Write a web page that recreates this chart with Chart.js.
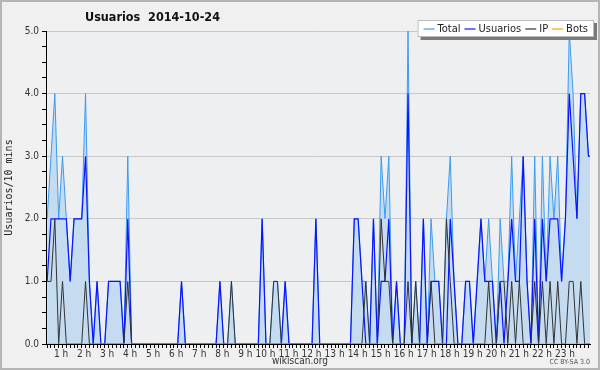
<!DOCTYPE html>
<html>
<head>
<meta charset="utf-8">
<title>Usuarios 2014-10-24</title>
<script src="https://cdn.jsdelivr.net/npm/chart.js@4.4.1/dist/chart.umd.min.js"></script>
<style>
    html, body { margin: 0; padding: 0; background: #f0f0f0; }
    #wrap { width: 600px; height: 370px; }
</style>
</head>
<body>
<div id="wrap"><canvas id="usuariosChart" width="600" height="370"></canvas></div>
<script>
// Usuarios por 10 minutos, 2014-10-24 (una fila = una hora)
const usuarios = [
    1, 2, 2, 2, 2, 2,   1, 2, 2, 2, 3, 1,   0, 1, 0, 0, 1, 1,   1, 1, 0, 2, 0, 0,
    0, 0, 0, 0, 0, 0,   0, 0, 0, 0, 0, 1,   0, 0, 0, 0, 0, 0,   0, 0, 0, 1, 0, 0,
    0, 0, 0, 0, 0, 0,   0, 0, 2, 0, 0, 0,   0, 0, 1, 0, 0, 0,   0, 0, 0, 0, 2, 0,
    0, 0, 0, 0, 0, 0,   0, 0, 2, 2, 1, 0,   0, 2, 0, 1, 1, 2,   0, 1, 0, 0, 4, 0,
    0, 0, 2, 0, 1, 1,   1, 0, 0, 2, 1, 0,   0, 1, 1, 0, 1, 2,   1, 1, 1, 0, 1, 0,
    1, 2, 1, 1, 3, 1,   0, 2, 0, 2, 1, 2,   2, 2, 1, 2, 4, 3,   2, 4, 4, 3, 3, 3
];

const ip = [
    1, 1, 2, 0, 1, 0,   0, 0, 0, 0, 1, 0,   0, 0, 0, 0, 0, 0,   0, 0, 0, 1, 0, 0,
    0, 0, 0, 0, 0, 0,   0, 0, 0, 0, 0, 0,   0, 0, 0, 0, 0, 0,   0, 0, 0, 0, 0, 0,
    1, 0, 0, 0, 0, 0,   0, 0, 0, 0, 0, 1,   1, 0, 0, 0, 0, 0,   0, 0, 0, 0, 0, 0,
    0, 0, 0, 0, 0, 0,   0, 0, 0, 0, 0, 1,   0, 0, 0, 2, 1, 1,   0, 0, 0, 0, 1, 0,
    1, 0, 0, 0, 1, 0,   0, 0, 2, 1, 0, 0,   0, 0, 0, 0, 0, 0,   0, 1, 0, 0, 1, 1,
    0, 1, 0, 1, 0, 0,   0, 1, 0, 1, 0, 1,   0, 1, 0, 0, 1, 1,   0, 1, 0, 0, 0, 0
];

const total = [
    2, 3, 4, 2, 3, 2,   1, 2, 2, 2, 4, 1,   0, 1, 0, 0, 1, 1,   1, 1, 0, 3, 0, 0,
    0, 0, 0, 0, 0, 0,   0, 0, 0, 0, 0, 1,   0, 0, 0, 0, 0, 0,   0, 0, 0, 1, 0, 0,
    1, 0, 0, 0, 0, 0,   0, 0, 2, 0, 0, 1,   1, 0, 1, 0, 0, 0,   0, 0, 0, 0, 2, 0,
    0, 0, 0, 0, 0, 0,   0, 0, 2, 2, 1, 1,   0, 2, 0, 3, 2, 3,   0, 1, 0, 0, 5, 0,
    1, 0, 2, 0, 2, 1,   1, 0, 2, 3, 1, 0,   0, 1, 1, 0, 1, 2,   1, 2, 1, 0, 2, 1,
    1, 3, 1, 2, 3, 1,   0, 3, 0, 3, 1, 3,   2, 3, 1, 2, 5, 4,   2, 4, 4, 3, 3, 3
];

const bots = [
    0, 0, 0, 0, 0, 0,   0, 0, 0, 0, 0, 0,   0, 0, 0, 0, 0, 0,   0, 0, 0, 0, 0, 0,
    0, 0, 0, 0, 0, 0,   0, 0, 0, 0, 0, 0,   0, 0, 0, 0, 0, 0,   0, 0, 0, 0, 0, 0,
    0, 0, 0, 0, 0, 0,   0, 0, 0, 0, 0, 0,   0, 0, 0, 0, 0, 0,   0, 0, 0, 0, 0, 0,
    0, 0, 0, 0, 0, 0,   0, 0, 0, 0, 0, 0,   0, 0, 0, 0, 0, 0,   0, 0, 0, 0, 0, 0,
    0, 0, 0, 0, 0, 0,   0, 0, 0, 0, 0, 0,   0, 0, 0, 0, 0, 0,   0, 0, 0, 0, 0, 0,
    0, 0, 0, 0, 0, 0,   0, 0, 0, 0, 0, 0,   0, 0, 0, 0, 0, 0,   0, 0, 0, 0, 0, 0
];

// etiquetas del eje X (una por hora, cada 6 intervalos)
const hourLabels = ['1 h', '2 h', '3 h', '4 h', '5 h', '6 h', '7 h', '8 h', '9 h', '10 h', '11 h', '12 h',
    '13 h', '14 h', '15 h', '16 h', '17 h', '18 h', '19 h', '20 h', '21 h', '22 h', '23 h'];
const seriesNames = ['Total', 'Usuarios', 'IP', 'Bots'];

const CHART_COLORS = {
    total: '#3c9cf0',
    totalFill: '#c5dcf0',
    usuarios: '#0a14ff',
    ip: '#333333',
    bots: '#ffa000',
    grid: '#c8c8c8',
    plotBg: '#eeeff1',
    pageBg: '#f0f0f0',
    text: '#333333'
};

const SANS = "'DejaVu Sans Condensed', 'Liberation Sans', sans-serif";

// fondo, marco, titulo, leyenda y pie
const decorPlugin = {
    id: 'decor',
    beforeDraw(chart) {
        const { ctx, chartArea: a } = chart;
        ctx.save();
        ctx.fillStyle = CHART_COLORS.pageBg;
        ctx.fillRect(0, 0, chart.width, chart.height);
        ctx.fillStyle = CHART_COLORS.plotBg;
        ctx.fillRect(a.left, a.top, a.right - a.left, a.bottom - a.top);
        ctx.restore();
    },
    afterDraw(chart) {
        const ctx = chart.ctx;
        ctx.save();

        // marco exterior
        ctx.strokeStyle = '#b4b4b4';
        ctx.lineWidth = 2;
        ctx.strokeRect(1, 1, chart.width - 2, chart.height - 2);

        // titulo
        ctx.fillStyle = '#111';
        ctx.font = "bold 12.5px " + SANS;
        ctx.textBaseline = 'middle';
        ctx.textAlign = 'left';
        ctx.fillText('Usuarios  2014-10-24', 85, 18);

        // leyenda
        ctx.font = "11px " + SANS;
        const colors = [CHART_COLORS.total, CHART_COLORS.usuarios, CHART_COLORS.ip, CHART_COLORS.bots];
        let width = 6;
        seriesNames.forEach(n => { width += 11 + 3 + ctx.measureText(n).width + 4; });
        width += 2;
        const bx = 594 - width, by = 20, bh = 17;
        ctx.fillStyle = '#7a7a7a';
        ctx.fillRect(bx + 3, by + 3, width, bh);
        ctx.fillStyle = '#ffffff';
        ctx.fillRect(bx, by, width, bh);
        ctx.strokeStyle = '#bbbbbb';
        ctx.lineWidth = 1;
        ctx.strokeRect(bx + 0.5, by + 0.5, width - 1, bh - 1);
        let x = bx + 6;
        const ly = by + bh / 2;
        seriesNames.forEach((n, i) => {
            ctx.strokeStyle = colors[i];
            ctx.lineWidth = 1.2;
            ctx.beginPath();
            ctx.moveTo(x, ly + 0.5);
            ctx.lineTo(x + 11, ly + 0.5);
            ctx.stroke();
            x += 14;
            ctx.fillStyle = '#222';
            ctx.fillText(n, x, ly + 1);
            x += ctx.measureText(n).width + 4;
        });

        // pie
        ctx.fillStyle = CHART_COLORS.text;
        ctx.textAlign = 'center';
        ctx.font = "10px " + SANS;
        ctx.fillText('wikiscan.org', 300, 361);
        ctx.textAlign = 'right';
        ctx.font = "7px " + SANS;
        ctx.fillStyle = '#555';
        ctx.fillText('CC BY-SA 3.0', 590, 362);

        ctx.restore();
    }
};

function isWhole(v) {
    return Math.abs(v - Math.round(v)) < 1e-6;
}

const ctx = document.getElementById('usuariosChart');
const slots = usuarios.map((_, i) => i);

const chart = new Chart(ctx, {
    type: 'line',
    data: {
        labels: slots,
        datasets: [
            {
                label: seriesNames[0],
                data: total,
                borderColor: CHART_COLORS.total,
                backgroundColor: CHART_COLORS.totalFill,
                fill: 'origin',
                borderWidth: 1,
                order: 4
            },
            {
                label: seriesNames[1],
                data: usuarios,
                borderColor: CHART_COLORS.usuarios,
                borderWidth: 1.2,
                fill: false,
                order: 3
            },
            {
                label: seriesNames[2],
                data: ip,
                borderColor: CHART_COLORS.ip,
                borderWidth: 1,
                fill: false,
                order: 2
            },
            {
                label: seriesNames[3],
                data: bots,
                borderColor: CHART_COLORS.bots,
                borderWidth: 1,
                fill: false,
                order: 1
            }
        ]
    },
    options: {
        responsive: false,
        animation: false,
        devicePixelRatio: 1,
        layout: {
            padding: { top: 31, right: 10, left: 0, bottom: 0 }
        },
        elements: {
            point: { radius: 0, hoverRadius: 0 },
            line: { tension: 0 }
        },
        plugins: {
            legend: { display: false },
            title: { display: false },
            tooltip: { enabled: false }
        },
        scales: {
            x: {
                type: 'linear',
                min: -0.3,
                max: 141.4,
                afterFit: scale => { scale.height = 26; },
                grid: {
                    drawOnChartArea: false,
                    tickLength: 4,
                    tickColor: '#000'
                },
                border: { color: '#000', width: 1, z: 1 },
                ticks: {
                    stepSize: 1,
                    autoSkip: false,
                    includeBounds: false,
                    maxRotation: 0,
                    align: 'end',
                    labelOffset: -2,
                    padding: 0,
                    color: CHART_COLORS.text,
                    font: { family: SANS, size: 10 },
                    callback: function(value) {
                        if (value > 0 && value % 6 === 0) return hourLabels[value / 6 - 1] || '';
                        return '';
                    }
                }
            },
            y: {
                min: 0,
                max: 5,
                afterFit: scale => { scale.width = 46; },
                grid: {
                    color: c => (isWhole(c.tick.value) && c.tick.value > 0 ? CHART_COLORS.grid : 'transparent'),
                    tickColor: '#000',
                    tickLength: 4
                },
                border: { color: '#000', width: 1, z: 1 },
                ticks: {
                    stepSize: 0.25,
                    autoSkip: false,
                    padding: 3,
                    color: CHART_COLORS.text,
                    font: { family: SANS, size: 10 },
                    callback: function(value) {
                        return isWhole(value) ? value.toFixed(1) : '';
                    }
                },
                title: {
                    display: true,
                    text: 'Usuarios/10 mins',
                    color: '#222',
                    padding: { top: 3, bottom: 0 },
                    font: { family: "'DejaVu Sans Mono', monospace", size: 10 }
                }
            }
        }
    },
    plugins: [decorPlugin]
});
</script>
</body>
</html>
